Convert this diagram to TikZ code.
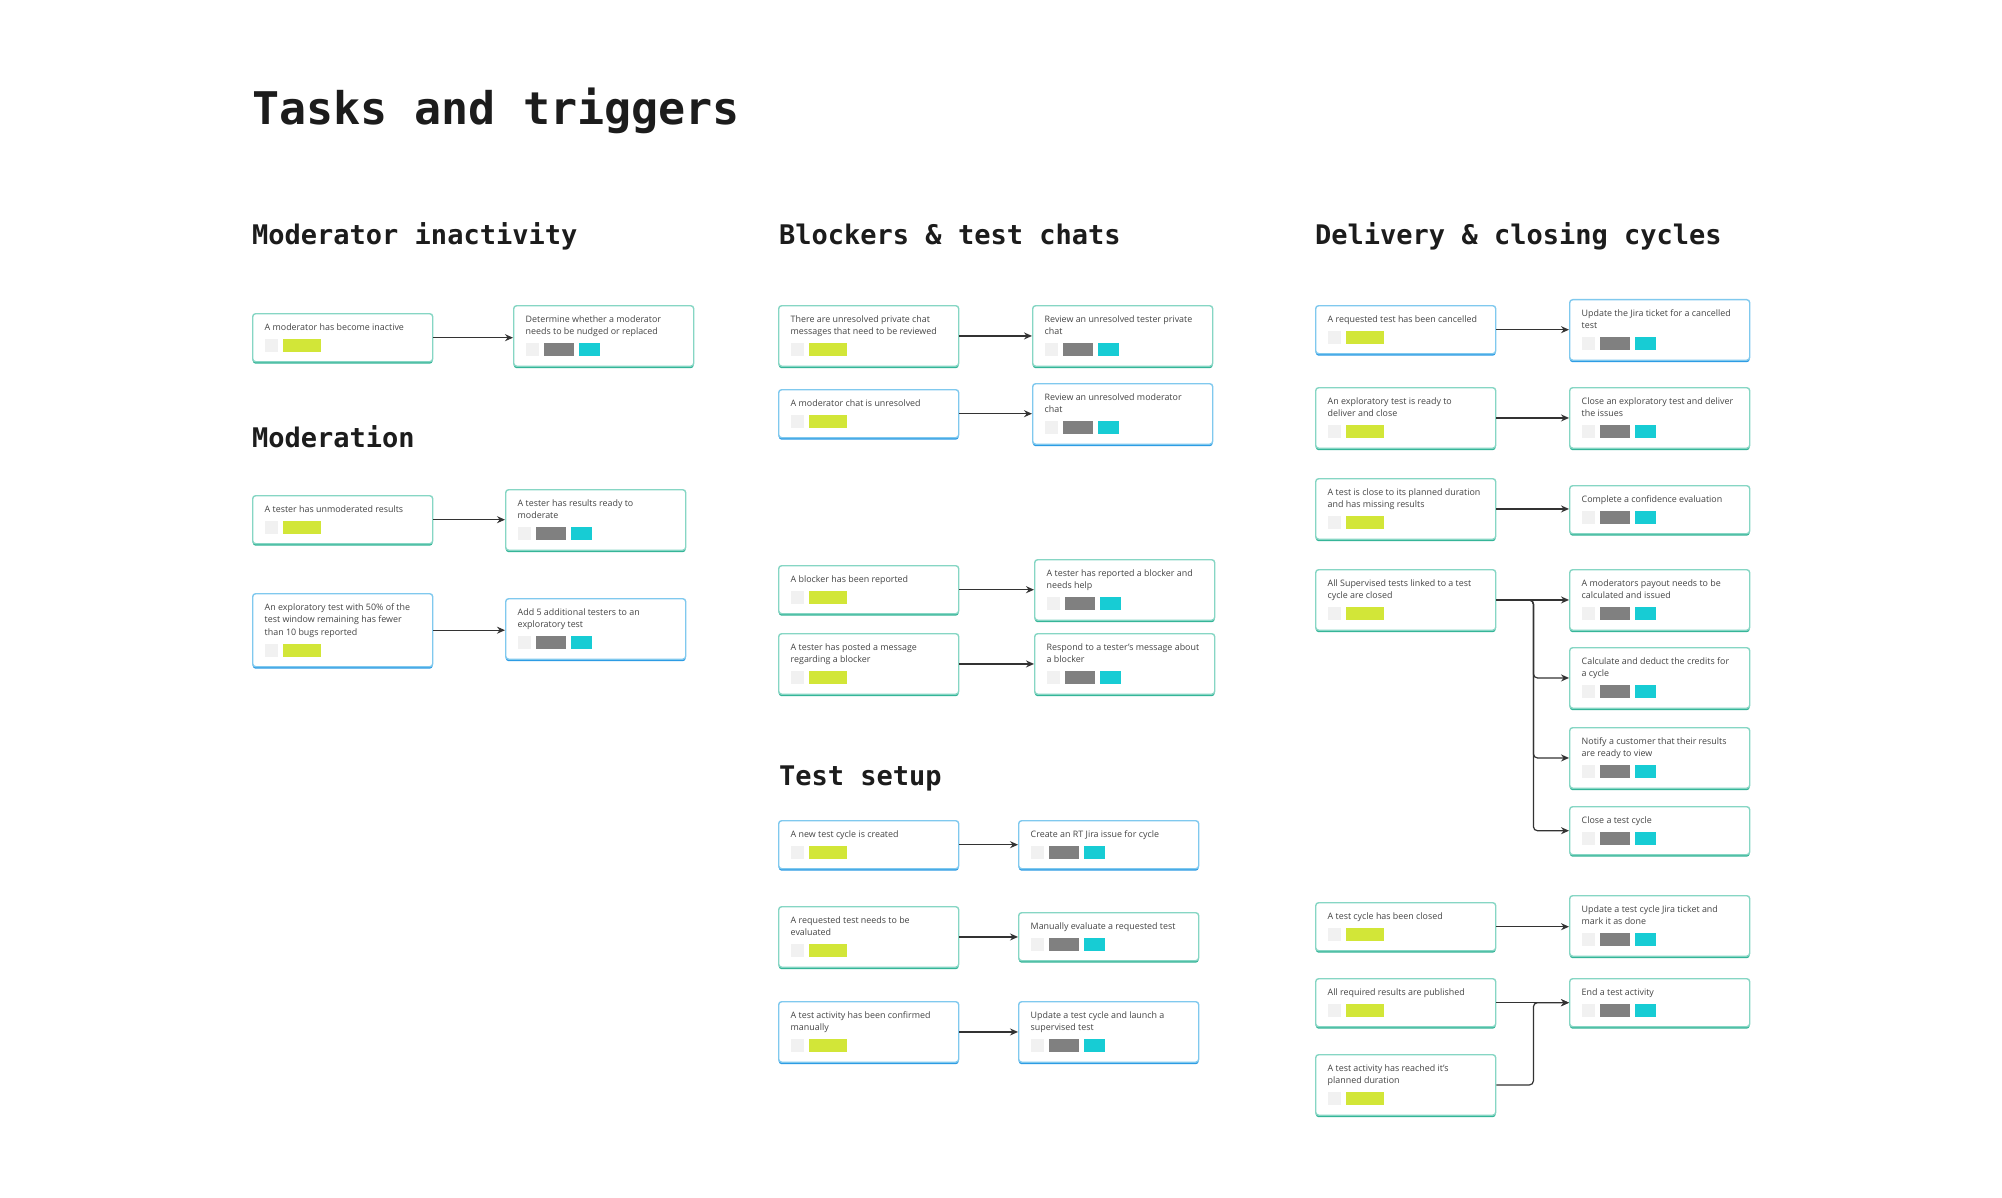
\documentclass[tikz,border=0pt]{standalone}
\usepackage{fontspec}
\setmainfont{Open Sans}
\newfontfamily\headfont{DejaVu Sans Mono}
\usepackage{xcolor,tikz}
\usetikzlibrary{arrows.meta,shadows}
\definecolor{ink}{HTML}{1C1C1C}
\definecolor{txt}{HTML}{454545}
\definecolor{tealedge}{HTML}{86D6C4}
\definecolor{tealbase}{HTML}{35B598}
\definecolor{blueedge}{HTML}{80C9EE}
\definecolor{bluebase}{HTML}{2D9CE4}
\definecolor{lime}{HTML}{D2E638}
\definecolor{chipgray}{HTML}{808080}
\definecolor{chipcyan}{HTML}{17CCD4}
\definecolor{chiplight}{HTML}{F1F1F1}
\definecolor{arrowc}{HTML}{333333}

% chips at the foot of each card
\newcommand{\chip}[2]{\textcolor{#1}{\rule{#2pt}{13pt}}}
\newcommand{\trigchips}{\chip{chiplight}{13}\hspace{5pt}\chip{lime}{38}}
\newcommand{\taskchips}{\chip{chiplight}{13}\hspace{5pt}\chip{chipgray}{30}\hspace{5pt}\chip{chipcyan}{21}}
\newcommand{\cardtext}[2]{\begin{minipage}{156pt}\raggedright
  \rule{0pt}{16.5pt}#1\rule[-8.5pt]{0pt}{8.5pt}\par\nointerlineskip
  \noindent#2\rule[-10pt]{0pt}{10pt}\end{minipage}}

\tikzset{
  card/.style={rectangle,rounded corners=3pt,fill=white,line width=1.4pt,
    inner xsep=12pt,inner ysep=0pt,anchor=north west,text=txt,
    font=\fontsize{8.9}{12.5}\selectfont},
  tealcard/.style={card,draw=tealedge,
    drop shadow={shadow xshift=0pt,shadow yshift=-2pt,fill=tealbase,opacity=1}},
  bluecard/.style={card,draw=blueedge,
    drop shadow={shadow xshift=0pt,shadow yshift=-2pt,fill=bluebase,opacity=1}},
  head/.style={anchor=base west,inner sep=0pt,text=ink,
    font=\headfont\bfseries\fontsize{45}{50}\selectfont},
  sec/.style={anchor=base west,inner sep=0pt,text=ink,
    font=\headfont\bfseries\fontsize{27}{30}\selectfont},
  link/.style={draw=arrowc,line width=1.2pt,-{Stealth[length=8pt,width=7pt]}}
}

\begin{document}
\begin{tikzpicture}[x=1pt,y=-1pt]
\useasboundingbox (0,0) rectangle (2002,1198);
\fill[white] (0,0) rectangle (2002,1198);

\node[head] (ttl) at (252,125) {Tasks and triggers};
\node[sec] (hmi) at (252,245) {Moderator inactivity};
\node[sec] (hmo) at (252,447) {Moderation};
\node[sec] (hbl) at (779,245) {Blockers \& test chats};
\node[sec] (hts) at (779,785) {Test setup};
\node[sec] (hdc) at (1315,245) {Delivery \& closing cycles};

% moderator inactivity
\node[tealcard] (mi1) at (252,313) {\cardtext{A moderator has become inactive}{\trigchips}};
\node[tealcard] (mi2) at (513,305) {\cardtext{Determine whether a moderator\\needs to be nudged or replaced}{\taskchips}};

% moderation
\node[tealcard] (mo1) at (252,495) {\cardtext{A tester has unmoderated results}{\trigchips}};
\node[tealcard] (mo2) at (505,489) {\cardtext{A tester has results ready to\\moderate}{\taskchips}};
\node[bluecard] (mo3) at (252,593) {\cardtext{An exploratory test with 50\% of the\\test window remaining has fewer\\than 10 bugs reported}{\trigchips}};
\node[bluecard] (mo4) at (505,598) {\cardtext{Add 5 additional testers to an\\exploratory test}{\taskchips}};

% blockers & test chats
\node[tealcard] (bl1) at (778,305) {\cardtext{There are unresolved private chat\\messages that need to be reviewed}{\trigchips}};
\node[tealcard] (bl2) at (1032,305) {\cardtext{Review an unresolved tester private\\chat}{\taskchips}};
\node[bluecard] (bl3) at (778,389) {\cardtext{A moderator chat is unresolved}{\trigchips}};
\node[bluecard] (bl4) at (1032,383) {\cardtext{Review an unresolved moderator\\chat}{\taskchips}};
\node[tealcard] (bl5) at (778,565) {\cardtext{A blocker has been reported}{\trigchips}};
\node[tealcard] (bl6) at (1034,559) {\cardtext{A tester has reported a blocker and\\needs help}{\taskchips}};
\node[tealcard] (bl7) at (778,633) {\cardtext{A tester has posted a message\\regarding a blocker}{\trigchips}};
\node[tealcard] (bl8) at (1034,633) {\cardtext{Respond to a tester's message about\\a blocker}{\taskchips}};

% test setup
\node[bluecard] (ts1) at (778,820) {\cardtext{A new test cycle is created}{\trigchips}};
\node[bluecard] (ts2) at (1018,820) {\cardtext{Create an RT Jira issue for cycle}{\taskchips}};
\node[tealcard] (ts3) at (778,906) {\cardtext{A requested test needs to be\\evaluated}{\trigchips}};
\node[tealcard] (ts4) at (1018,912) {\cardtext{Manually evaluate a requested test}{\taskchips}};
\node[bluecard] (ts5) at (778,1001) {\cardtext{A test activity has been confirmed\\manually}{\trigchips}};
\node[bluecard] (ts6) at (1018,1001) {\cardtext{Update a test cycle and launch a\\supervised test}{\taskchips}};

% delivery & closing cycles
\node[bluecard] (dc1) at (1315,305) {\cardtext{A requested test has been cancelled}{\trigchips}};
\node[bluecard] (dc2) at (1569,299) {\cardtext{Update the Jira ticket for a cancelled\\test}{\taskchips}};
\node[tealcard] (dc3) at (1315,387) {\cardtext{An exploratory test is ready to\\deliver and close}{\trigchips}};
\node[tealcard] (dc4) at (1569,387) {\cardtext{Close an exploratory test and deliver\\the issues}{\taskchips}};
\node[tealcard] (dc5) at (1315,478) {\cardtext{A test is close to its planned duration\\and has missing results}{\trigchips}};
\node[tealcard] (dc6) at (1569,485) {\cardtext{Complete a confidence evaluation}{\taskchips}};
\node[tealcard] (dc7) at (1315,569) {\cardtext{All Supervised tests linked to a test\\cycle are closed}{\trigchips}};
\node[tealcard] (dc8) at (1569,569) {\cardtext{A moderators payout needs to be\\calculated and issued}{\taskchips}};
\node[tealcard] (dc9) at (1569,647) {\cardtext{Calculate and deduct the credits for\\a cycle}{\taskchips}};
\node[tealcard] (dc10) at (1569,727) {\cardtext{Notify a customer that their results\\are ready to view}{\taskchips}};
\node[tealcard] (dc11) at (1569,806) {\cardtext{Close a test cycle}{\taskchips}};
\node[tealcard] (dc12) at (1315,902) {\cardtext{A test cycle has been closed}{\trigchips}};
\node[tealcard] (dc13) at (1569,895) {\cardtext{Update a test cycle Jira ticket and\\mark it as done}{\taskchips}};
\node[tealcard] (dc14) at (1315,978) {\cardtext{All required results are published}{\trigchips}};
\node[tealcard] (dc15) at (1569,978) {\cardtext{End a test activity}{\taskchips}};
\node[tealcard] (dc16) at (1315,1054) {\cardtext{A test activity has reached it's\\planned duration}{\trigchips}};

% one trigger, one task
\foreach \a/\b in {mi1/mi2,mo1/mo2,mo3/mo4,bl1/bl2,bl3/bl4,bl5/bl6,bl7/bl8,
    ts1/ts2,ts3/ts4,ts5/ts6,dc1/dc2,dc3/dc4,dc5/dc6,dc7/dc8,dc12/dc13,dc14/dc15}
  \draw[link] (\a.east) -- (\a.east -| \b.west);

% fan out and merge
\foreach \k in {dc9,dc10,dc11}
  \draw[link,rounded corners=4pt] (dc7.east) -- ++(37,0) |- (\k.west);
\draw[link,rounded corners=4pt] (dc16.east) -- ++(37,0) |- (dc15.west);
\end{tikzpicture}
\end{document}
